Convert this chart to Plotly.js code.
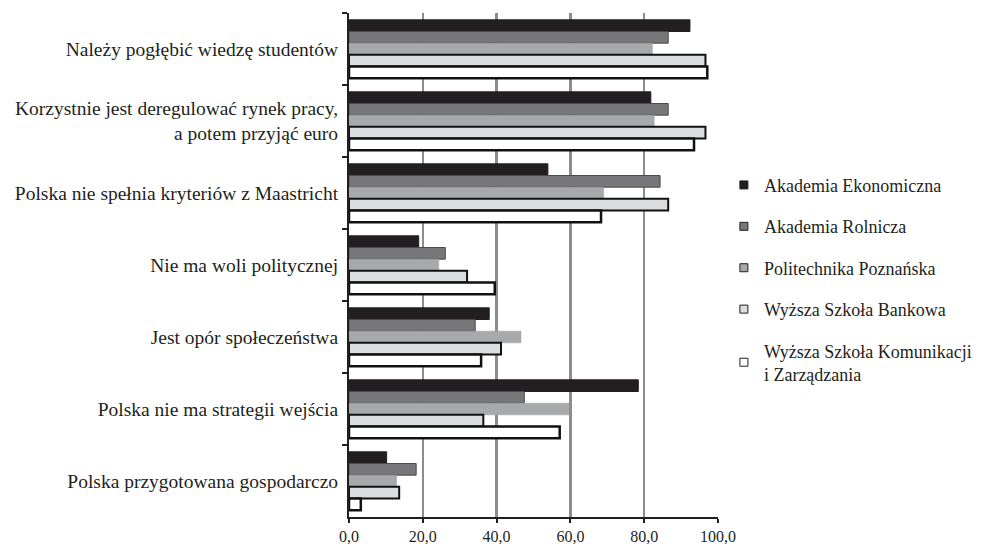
<!DOCTYPE html>
<html><head><meta charset="utf-8">
<script src="https://cdn.plot.ly/plotly-3.0.1.min.js"></script>
<style>html,body{margin:0;padding:0;background:#fff}</style>
</head><body><div id="chart" style="width:989px;height:544px"></div>
<script>
const categories = [
  "Należy pogłębić wiedzę studentów",
  "Korzystnie jest deregulować rynek pracy,<br>a potem przyjąć euro",
  "Polska nie spełnia kryteriów z Maastricht",
  "Nie ma woli politycznej",
  "Jest opór społeczeństwa",
  "Polska nie ma strategii wejścia",
  "Polska przygotowana gospodarczo"
];
const seriesNames = [
  "Akademia Ekonomiczna",
  "Akademia Rolnicza",
  "Politechnika Poznańska",
  "Wyższa Szkoła Bankowa",
  "Wyższa Szkoła Komunikacji<br>i Zarządzania"
];
const akademiaEkonomiczna = [92.4, 81.8, 53.9, 18.9, 38.0, 78.4, 10.2];
const akademiaRolnicza    = [86.5, 86.5, 84.3, 26.1, 34.2, 47.5, 18.2];
const politechnika        = [82.2, 82.7, 69.0, 24.3, 46.6, 59.6, 12.9];
const wsBankowa           = [96.6, 96.6, 86.5, 32.0, 41.2, 36.4, 13.6];
const wsKomunikacji       = [97.1, 93.5, 68.3, 39.5, 35.8, 57.1, 3.2];
const xTicks = [0, 20, 40, 60, 80, 100];

const values = [akademiaEkonomiczna, akademiaRolnicza, politechnika, wsBankowa, wsKomunikacji];
const fills = ["#231f20", "#77777a", "#a8a9ab", "#dcdddf", "#ffffff"];
const lines = ["#231f20", "#4a4a4c", "#9a9b9d", "#111111", "#111111"];
const lineW = [1, 1, 0.5, 2, 2.5];

const font = "'Liberation Serif', 'Times New Roman', serif";
const traces = values.map((v, i) => ({
  type: "bar", orientation: "h",
  x: v, y: categories, name: seriesNames[i],
  showlegend: false,
  marker: {color: fills[i], line: {color: lines[i], width: lineW[i]}},
  hoverinfo: "x+name"
}));
// legend entries with small square symbols
seriesNames.forEach((n, i) => traces.push({
  type: "scatter", mode: "markers", x: [null], y: [null], name: n,
  legendgroup: "g" + i, showlegend: true,
  marker: {symbol: "square", size: 8, color: fills[i], line: {color: "#231f20", width: 1}}
}));

const layout = {
  width: 989, height: 544,
  margin: {l: 349, r: 269, t: 13, b: 27},
  paper_bgcolor: "#fff", plot_bgcolor: "#fff",
  separators: ", ",
  barmode: "group", bargap: 0.19, bargroupgap: 0,
  font: {family: font, color: "#231f20", size: 16},
  showlegend: true,
  legend: {x: 1.016, xanchor: "left", y: 0.695, yanchor: "top",
           font: {family: font, size: 18, color: "#231f20"},
           traceorder: "grouped", tracegroupgap: 15, itemwidth: 30},
  xaxis: {range: [0, 100], tickvals: xTicks, tickformat: ".1f",
          showgrid: true, gridcolor: "#8c8c8c", gridwidth: 2.5,
          zeroline: false, showline: true, linecolor: "#231f20", linewidth: 2,
          ticks: "outside", ticklen: 4, tickwidth: 2, tickcolor: "#231f20",
          tickfont: {family: font, size: 16, color: "#231f20"}, fixedrange: true},
  yaxis: {type: "category", autorange: "reversed",
          showline: true, linecolor: "#231f20", linewidth: 2,
          ticks: "outside", tickson: "boundaries", ticklen: 5, tickwidth: 2, tickcolor: "#231f20",
          ticklabelstandoff: 5,
          showgrid: false, zeroline: false,
          tickfont: {family: font, size: 19.5, color: "#231f20"}, fixedrange: true}
};

Plotly.newPlot("chart", traces, layout, {displayModeBar: false, staticPlot: true});
</script>
</body></html>
